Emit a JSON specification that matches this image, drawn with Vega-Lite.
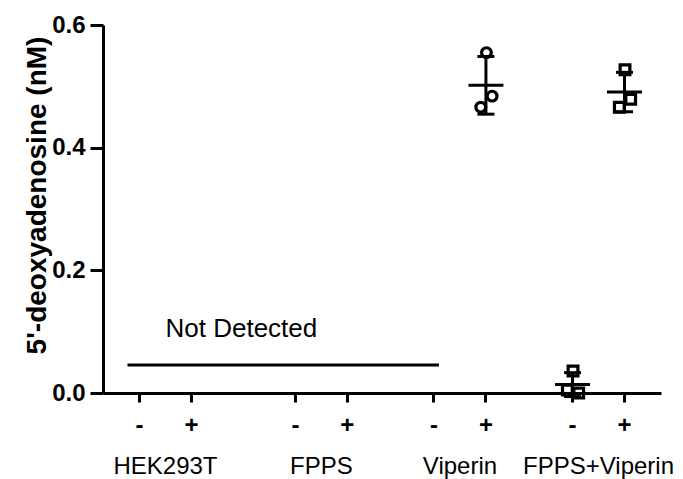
{
  "$schema": "https://vega.github.io/schema/vega-lite/v6.json",
  "width": 558,
  "height": 368,
  "autosize": "none",
  "padding": {"left": 103, "top": 25, "right": 22, "bottom": 86},
  "background": "white",
  "config": {"view": {"stroke": null}, "font": "Liberation Sans"},
  "datasets": {
    "measurements": [
      {"condition": "Viperin +", "cells": "Viperin", "rep": "C", "value": 0.555},
      {"condition": "Viperin +", "cells": "Viperin", "rep": "R", "value": 0.484},
      {"condition": "Viperin +", "cells": "Viperin", "rep": "L", "value": 0.466},
      {"condition": "FPPS+Viperin -", "cells": "FPPS+Viperin", "rep": "C", "value": 0.036},
      {"condition": "FPPS+Viperin -", "cells": "FPPS+Viperin", "rep": "L", "value": 0.005},
      {"condition": "FPPS+Viperin -", "cells": "FPPS+Viperin", "rep": "R", "value": 0.0},
      {"condition": "FPPS+Viperin +", "cells": "FPPS+Viperin", "rep": "C", "value": 0.527},
      {"condition": "FPPS+Viperin +", "cells": "FPPS+Viperin", "rep": "R", "value": 0.479},
      {"condition": "FPPS+Viperin +", "cells": "FPPS+Viperin", "rep": "L", "value": 0.466}
    ],
    "annotation": [
      {"label": "Not Detected", "from": "HEK293T -", "to": "Viperin -", "limit": 0.0457}
    ]
  },
  "resolve": {"axis": {"x": "independent"}},
  "layer": [
    {
      "data": {"name": "measurements"},
      "mark": {"type": "point", "filled": false, "strokeWidth": 3.2, "size": 95, "color": "black", "opacity": 1},
      "encoding": {
        "x": {
          "field": "condition",
          "type": "nominal",
          "scale": {
            "type": "band",
            "paddingInner": 0,
            "paddingOuter": 0.607,
            "domain": ["start", "HEK293T -", "s1", "s2", "HEK293T +", "s4", "s5", "s6", "s7", "s8", "FPPS -", "s10", "s11", "FPPS +", "s13", "s14", "s15", "s16", "Viperin -", "s18", "s19", "Viperin +", "s21", "s22", "s23", "s24", "FPPS+Viperin -", "s26", "s27", "FPPS+Viperin +", "end"]
          },
          "axis": {
            "orient": "bottom",
            "values": ["HEK293T -", "HEK293T +", "FPPS -", "FPPS +", "Viperin -", "Viperin +", "FPPS+Viperin -", "FPPS+Viperin +"],
            "labelExpr": "slice(datum.value, -1)",
            "title": null,
            "grid": false,
            "domainWidth": 3,
            "domainColor": "black",
            "tickWidth": 3,
            "tickColor": "black",
            "tickSize": 9,
            "labelFontSize": 24,
            "labelFontWeight": "bold",
            "labelColor": "black",
            "labelBaseline": "alphabetic",
            "labelPadding": 30,
            "labelAngle": 0,
            "labelOverlap": false
          }
        },
        "xOffset": {"field": "rep", "type": "nominal", "scale": {"type": "point", "domain": ["L", "C", "R"], "range": [0.66, 17.66]}},
        "y": {
          "field": "value",
          "type": "quantitative",
          "title": "5'-deoxyadenosine (nM)",
          "scale": {"domain": [0, 0.6], "nice": false},
          "axis": {
            "values": [0, 0.2, 0.4, 0.6],
            "format": ".1f",
            "titleFontSize": 28,
            "titleFontWeight": "bold",
            "titleColor": "black",
            "titleX": -58,
            "titleY": 170,
            "titleAngle": 270,
            "titleAlign": "center",
            "titleBaseline": "alphabetic",
            "labelFontSize": 24,
            "labelFontWeight": "bold",
            "labelColor": "black",
            "labelPadding": 5,
            "tickSize": 13,
            "tickWidth": 3,
            "tickColor": "black",
            "domainWidth": 3,
            "domainColor": "black",
            "grid": false
          }
        },
        "shape": {"field": "cells", "type": "nominal", "scale": {"domain": ["Viperin", "FPPS+Viperin"], "range": ["circle", "square"]}, "legend": null}
      }
    },
    {
      "data": {"name": "measurements"},
      "mark": {"type": "errorbar", "extent": "stdev", "ticks": {"color": "black", "opacity": 1}, "size": 17, "thickness": 3, "color": "black"},
      "encoding": {
        "x": {"field": "condition", "type": "nominal", "axis": null},
        "y": {"field": "value", "type": "quantitative", "title": "5'-deoxyadenosine (nM)"}
      }
    },
    {
      "data": {"name": "measurements"},
      "mark": {"type": "tick", "size": 35, "thickness": 3, "color": "black", "opacity": 1},
      "encoding": {
        "x": {
          "field": "condition",
          "type": "nominal",
          "axis": {
            "orient": "bottom",
            "values": ["HEK293T -", "FPPS -", "Viperin -", "FPPS+Viperin -"],
            "labelExpr": "slice(datum.value, 0, -2)",
            "title": null,
            "grid": false,
            "ticks": false,
            "tickSize": 0,
            "domain": false,
            "labelOffset": 26,
            "labelPadding": 80,
            "labelBaseline": "alphabetic",
            "labelFontSize": 24,
            "labelFontWeight": "normal",
            "labelColor": "black",
            "labelAngle": 0,
            "labelOverlap": false
          }
        },
        "y": {"aggregate": "mean", "field": "value", "type": "quantitative", "title": "5'-deoxyadenosine (nM)"}
      }
    },
    {
      "data": {"name": "annotation"},
      "mark": {"type": "rule", "strokeWidth": 3, "color": "black", "xOffset": -12, "x2Offset": 5},
      "encoding": {
        "x": {"field": "from", "type": "nominal", "axis": null},
        "x2": {"field": "to"},
        "y": {"field": "limit", "type": "quantitative", "title": "5'-deoxyadenosine (nM)"}
      }
    },
    {
      "data": {"name": "annotation"},
      "mark": {"type": "text", "align": "left", "baseline": "alphabetic", "dx": 26, "dy": -28, "fontSize": 26, "color": "black", "font": "Liberation Sans"},
      "encoding": {
        "x": {"field": "from", "type": "nominal", "axis": null},
        "y": {"field": "limit", "type": "quantitative", "title": "5'-deoxyadenosine (nM)"},
        "text": {"field": "label"}
      }
    }
  ]
}
